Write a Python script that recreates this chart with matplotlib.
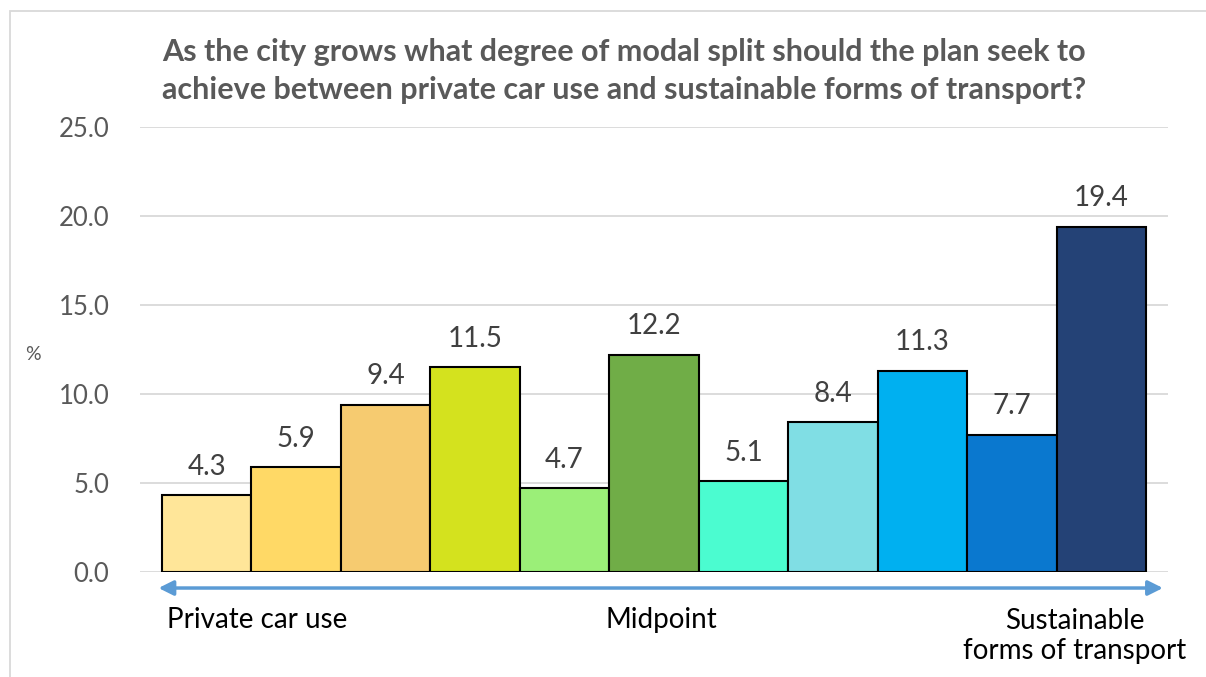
import matplotlib
matplotlib.use("Agg")
import matplotlib.pyplot as plt
from matplotlib.patches import Rectangle

# data
valores = [4.3, 5.9, 9.4, 11.5, 4.7, 12.2, 5.1, 8.4, 11.3, 7.7, 19.4]
colores = ['#FFE699', '#FFD966', '#F6CB70', '#D4E21E', '#9BEF78', '#70AD47',
           '#4BFCD0', '#80DEE4', '#00B0F0', '#0A78CF', '#244276']
ticks_y = [0, 5, 10, 15, 20, 25]
titulo = ("As the city grows what degree of modal split should the plan seek to\n"
          "achieve between private car use and sustainable forms of transport?")
etiquetas_eje = ["Private car use", "Midpoint", "Sustainable\nforms of transport"]

plt.rcParams['font.family'] = ['Lato', 'DejaVu Sans']

fig = plt.figure(figsize=(12.06, 6.77), dpi=100)
ax = fig.add_axes([140 / 1206, 1 - 572 / 677, 1028 / 1206, 445 / 677])

x = list(range(len(valores)))
ax.bar(x, valores, width=1.0, color=colores, edgecolor='black', linewidth=1.5, zorder=3)

for xi, v in zip(x, valores):
    ax.text(xi, v + 1.15, f"{v:.1f}", ha='center', va='baseline', fontsize=20, color='#404040')

ax.set_xlim(-0.746, 10.746)
ax.set_ylim(0, 25)
ax.set_yticks(ticks_y)
ax.set_yticklabels([f"{t:.1f}" for t in ticks_y], fontsize=18.5, color='#595959')
ax.tick_params(axis='y', length=0, pad=22)
ax.set_xticks([])
ax.grid(axis='y', color='#D9D9D9', linewidth=1.3, zorder=0)
for s in ax.spines.values():
    s.set_visible(False)

fig.text(33 / 1206, 1 - 355 / 677, "%", fontsize=14, color='#595959', ha='center', va='center')

fig.text(624 / 1206, 1 - 71 / 677, titulo, fontsize=22, fontweight='bold', color='#595959',
         ha='center', va='center', linespacing=1.4)

# flecha doble bajo el eje
ax.annotate('', xy=(-0.57, -0.9), xytext=(10.72, -0.9), xycoords='data',
            arrowprops=dict(arrowstyle='<|-|>', color='#5B9BD5', lw=2.5, mutation_scale=22),
            annotation_clip=False)

fig.text(167 / 1206, 1 - 620 / 677, etiquetas_eje[0], fontsize=20, ha='left', va='center')
fig.text(661 / 1206, 1 - 620 / 677, etiquetas_eje[1], fontsize=20, ha='center', va='center')
fig.text(1186 / 1206, 1 - 636 / 677, etiquetas_eje[2], fontsize=20, ha='right', va='center',
         multialignment='center', linespacing=1.15)

# borde del grafico
fig.add_artist(Rectangle((10 / 1206, -0.01), 1.2, 1 - 11 / 677 + 0.01, transform=fig.transFigure,
                         fill=False, edgecolor='#D9D9D9', linewidth=1.3))

fig.savefig("out.png", dpi=100)
